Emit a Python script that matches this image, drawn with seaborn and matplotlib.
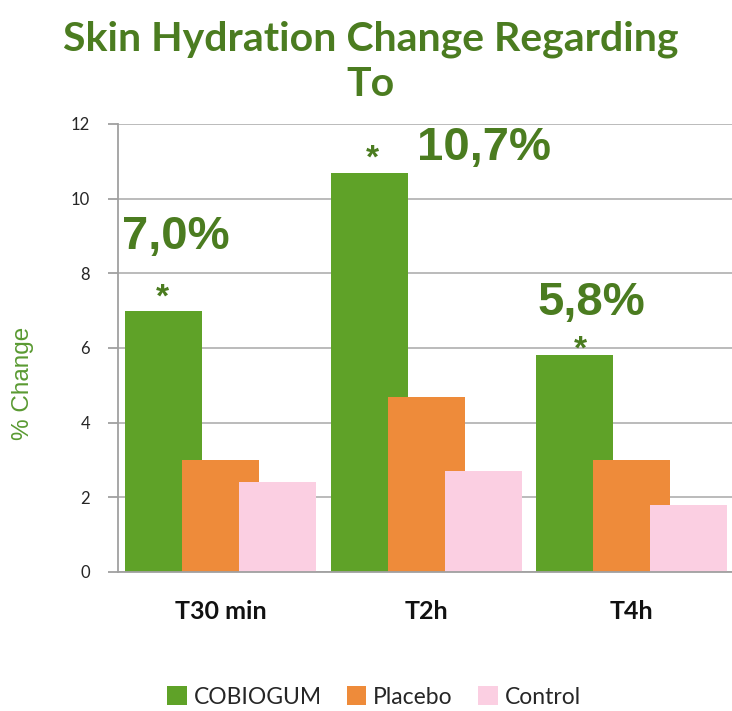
import matplotlib
matplotlib.use("Agg")
import matplotlib.pyplot as plt
import seaborn as sns
import pandas as pd

# ---- data ----
timepoints = ["T30 min", "T2h", "T4h"]
groups = ["COBIOGUM", "Placebo", "Control"]
cobiogum = [7.0, 10.7, 5.8]
placebo = [3.0, 4.7, 3.0]
control = [2.4, 2.7, 1.8]
highlight_labels = ["7,0%", "10,7%", "5,8%"]
yticks = [0, 2, 4, 6, 8, 10, 12]

df = pd.DataFrame({
    "time": timepoints * 3,
    "group": [g for g in groups for _ in timepoints],
    "value": cobiogum + placebo + control,
})

colors = ["#5fa228", "#ee8b3a", "#fbcfe2"]
dark_green = "#4b7c20"

sns.set_theme(style="white")
plt.rcParams["font.family"] = ["Lato", "DejaVu Sans"]

fig = plt.figure(figsize=(7.32, 7.11), dpi=100)
ax = fig.add_axes([118 / 732, 139 / 711, 616.5 / 732, 448 / 711])

sns.barplot(data=df, x="time", y="value", hue="group", order=timepoints,
            hue_order=groups, palette=colors, width=0.832, dodge=True,
            saturation=1, ax=ax, legend=True)

# Overlapping bars (Excel-style overlap): widen each bar around its own center
new_w = 0.375
for p in ax.patches:
    c = p.get_x() + p.get_width() / 2
    p.set_width(new_w)
    p.set_x(c - new_w / 2)
    p.set_edgecolor("none")

ax.set_ylim(0, 12)
ax.set_xlim(-0.5, 2.5)
ax.set_yticks(yticks)
ax.set_yticklabels([str(t) for t in yticks], fontsize=12, color="#262626")
ax.yaxis.grid(True, color="#b5b5b5", linewidth=1.3)
ax.set_axisbelow(True)

ax.set_xticks(range(len(timepoints)))
ax.set_xticklabels(timepoints, fontsize=18, fontweight="bold", color="#111111")
ax.set_xticks([-0.5, 0.5, 1.5, 2.5], minor=True)
ax.tick_params(axis="x", which="major", length=0, pad=20)
ax.tick_params(axis="x", which="minor", length=7, width=1.3, color="#a0a0a0", direction="out")
ax.tick_params(axis="y", which="major", length=7, width=1.3, color="#a0a0a0", direction="out", left=True, pad=13)

for s in ["top", "right"]:
    ax.spines[s].set_visible(False)
for s in ["left", "bottom"]:
    ax.spines[s].set_color("#a0a0a0")
    ax.spines[s].set_linewidth(1.3)

ax.set_xlabel("")
ax.set_ylabel("% Change", fontsize=17.5, color="#5a9a32", family=["Liberation Sans"])
ax.yaxis.set_label_coords(-0.136, 0.422)

# Highlight labels and significance stars
label_pos = [(-0.48, 8.97), (0.955, 11.36), (1.539, 7.2)]
star_pos = [(-0.285, 7.35), (0.74, 11.05), (1.748, 5.95)]
for (lx, ly), txt in zip(label_pos, highlight_labels):
    ax.text(lx, ly, txt, fontsize=34, fontweight="bold", color=dark_green,
            family=["Liberation Sans"], ha="left", va="center")
for sx, sy in star_pos:
    ax.text(sx, sy, "*", fontsize=24, fontweight="bold", color=dark_green,
            family=["Liberation Sans"], ha="center", va="center")

fig.text(371 / 732, 1 - 39 / 711, "Skin Hydration Change Regarding", fontsize=29.5,
         fontweight="bold", color=dark_green, ha="center", va="center")
fig.text(371 / 732, 1 - 85 / 711, "To", fontsize=29.5,
         fontweight="bold", color=dark_green, ha="center", va="center")

handles, labels = ax.get_legend_handles_labels()
ax.legend_.remove()
fig.legend(handles, labels, loc="center", bbox_to_anchor=(374 / 732, 1 - 697 / 711),
           ncol=3, frameon=False, fontsize=16.5, handlelength=0.85, handleheight=0.85,
           handletextpad=0.3, columnspacing=1.1)

fig.savefig("out.png", dpi=100)
